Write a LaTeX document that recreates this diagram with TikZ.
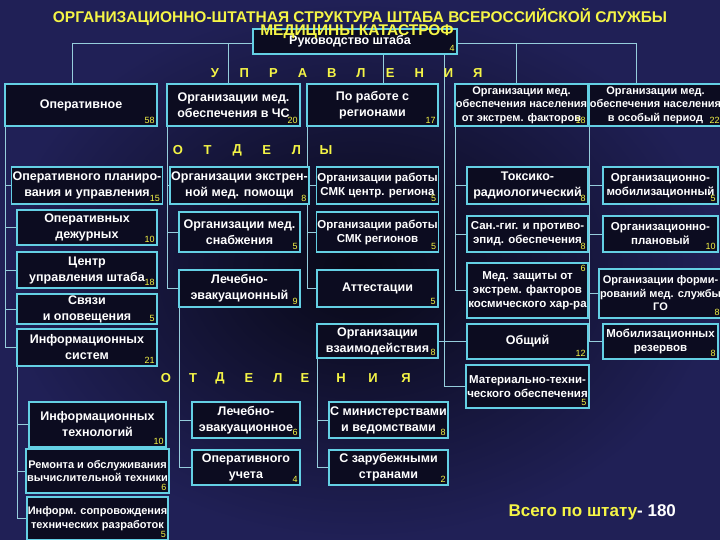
\documentclass[tikz,border=0pt]{standalone}
\usepackage{fontspec}
\setmainfont{Liberation Sans}
\usetikzlibrary{backgrounds}
\definecolor{bgin}{RGB}{8,8,22}
\definecolor{bgout}{RGB}{32,32,86}
\definecolor{boxfill}{RGB}{12,12,32}
\definecolor{boxline}{RGB}{100,208,228}
\definecolor{wirecol}{RGB}{150,205,220}
\definecolor{yel}{RGB}{245,245,70}

\begin{document}
\begin{tikzpicture}[x=1pt,y=-1pt,
    box/.style={draw=boxline, line width=1.6pt, fill=boxfill, text=white, align=center, inner sep=1pt,
        font=\bfseries\fontsize{12.5}{16}\selectfont},
    small/.style={font=\bfseries\fontsize{11.5}{14}\selectfont},
    tiny/.style={font=\bfseries\fontsize{11}{13.5}\selectfont},
    numlbl/.style={inner sep=3pt, text=yel, font=\fontsize{9}{9}\selectfont},
    cnt/.style={label={[numlbl, anchor=south east]south east:#1}},
    cntT/.style={label={[numlbl, anchor=north east]north east:#1}},
    wire/.style={draw=wirecol, line width=0.8pt},
    letter/.style={text=yel, font=\bfseries\fontsize{13}{13}\selectfont},
    title/.style={text=yel, inner sep=0pt, font=\bfseries\fontsize{15.5}{16}\selectfont}]

    \useasboundingbox (0,0) rectangle (720,540);

    \node[box, minimum width=204pt, minimum height=25pt, cnt=4] (ruk) at (355,41.5) {\raisebox{-2pt}{Руководство штаба}\hspace{10pt}};

    \node[box, minimum width=152pt, minimum height=42pt, cnt=58] (ops) at (81,105) {Оперативное};
    \node[box, minimum width=133pt, minimum height=42pt, cnt=20] (chs) at (233.5,105) {Организации мед.\\обеспечения в ЧС};
    \node[box, minimum width=131pt, minimum height=42pt, cnt=17] (reg) at (372.5,105) {По работе с\\регионами};
    \node[box, tiny, minimum width=133pt, minimum height=42pt, cnt=18] (nas) at (521.5,105) {Организации мед.\\обеспечения населения\\от экстрем. факторов};
    \node[box, tiny, minimum width=125pt, minimum height=42pt, cnt=22] (osob) at (655.5,105) {Организации мед.\\обеспечения населения\\в особый период};

    \node[box, minimum width=140pt, minimum height=37pt, cnt=15] (plan) at (87,185.5) {Оперативного планиро-\\вания и управления};
    \node[box, minimum width=140pt, minimum height=35pt, cnt=10] (dej) at (87,227.5) {Оперативных\\дежурных};
    \node[box, minimum width=140pt, minimum height=36pt, cnt=18] (cup) at (87,270) {Центр\\управления штаба};
    \node[box, minimum width=140pt, minimum height=30pt, cnt=5] (svyaz) at (87,309) {Связи\\и оповещения};
    \node[box, minimum width=140pt, minimum height=37pt, cnt=21] (info) at (87,347.5) {Информационных\\систем};

    \node[box, minimum width=137pt, minimum height=45pt, cnt=10] (itech) at (97.5,424.5) {Информационных\\технологий};
    \node[box, tiny, minimum width=137pt, minimum height=44pt, cnt=6] (rem) at (97.5,471) {Ремонта и обслуживания\\вычислительной техники};
    \node[box, tiny, minimum width=137pt, minimum height=43pt, cnt=5] (sopr) at (97.5,518.5) {Информ. сопровождения\\технических разработок};

    \node[box, minimum width=121pt, minimum height=37pt, cnt=8] (ekstr) at (239.5,185.5) {Организации экстрен-\\ной мед. помощи};
    \node[box, minimum width=121pt, minimum height=40pt, cnt=5] (snab) at (239.5,232) {Организации мед.\\снабжения};
    \node[box, minimum width=121pt, minimum height=37pt, cnt=9] (lev) at (239.5,288.5) {Лечебно-\\эвакуационный};

    \node[box, minimum width=108pt, minimum height=36pt, cnt=6] (levn) at (246,420) {Лечебно-\\эвакуационное};
    \node[box, minimum width=108pt, minimum height=35pt, cnt=4] (ucht) at (246,467.5) {Оперативного\\учета};

    \node[box, small, minimum width=121pt, minimum height=37pt, cnt=5] (smk1) at (377.5,185.5) {Организации работы\\СМК центр. региона};
    \node[box, small, minimum width=121pt, minimum height=40pt, cnt=5] (smk2) at (377.5,232) {Организации работы\\СМК регионов};
    \node[box, minimum width=121pt, minimum height=37pt, cnt=5] (att) at (377.5,288.5) {Аттестации};
    \node[box, minimum width=121pt, minimum height=34pt, cnt=8] (vzaim) at (377.5,341) {Организации\\взаимодействия};

    \node[box, minimum width=119pt, minimum height=36pt, cnt=8] (min) at (388.5,420) {С министерствами\\и ведомствами};
    \node[box, minimum width=119pt, minimum height=35pt, cnt=2] (zar) at (388.5,467.5) {С зарубежными\\странами};

    \node[box, minimum width=121pt, minimum height=37pt, cnt=8] (tox) at (527.5,185.5) {Токсико-\\радиологический};
    \node[box, small, minimum width=121pt, minimum height=36pt, cnt=8] (san) at (527.5,234) {Сан.-гиг. и противо-\\эпид. обеспечения};
    \node[box, small, minimum width=121pt, minimum height=55pt, cntT=6] (mz) at (527.5,290.5) {Мед. защиты от\\экстрем. факторов\\космического хар-ра};
    \node[box, minimum width=121pt, minimum height=35pt, cnt=12] (obsh) at (527.5,341.5) {Общий};
    \node[box, small, minimum width=121pt, minimum height=43pt, cnt=5] (mto) at (527.5,386.5) {Материально-техни-\\ческого обеспечения};

    \node[box, small, minimum width=115pt, minimum height=37pt, cnt=5] (omob) at (660.5,185.5) {Организационно-\\мобилизационный};
    \node[box, small, minimum width=115pt, minimum height=36pt, cnt=10] (oplan) at (660.5,234) {Организационно-\\плановый};
    \node[box, tiny, minimum width=115pt, minimum height=49pt, cnt=8] (go) at (660.5,293.5) {Организации форми-\\рований мед. службы\\ГО};
    \node[box, small, minimum width=115pt, minimum height=35pt, cnt=8] (rez) at (660.5,341.5) {Мобилизационных\\резервов};

    \begin{scope}[on background layer]
    \shade[inner color=bgin, outer color=bgout] (0,0) rectangle (720,540);

    \coordinate (b1) at (72,43);
    \coordinate (b2) at (228,43);
    \coordinate (b3) at (383,43);
    \coordinate (b4) at (444,43);
    \coordinate (b5) at (516,43);
    \coordinate (b6) at (636,43);
    \draw[wire] (b1) -- (b6);
    \draw[wire] (b1) -- (b1 |- ops.north);
    \draw[wire] (b2) -- (b2 |- chs.north);
    \draw[wire] (b3) -- (b3 |- reg.north);
    \draw[wire] (b5) -- (b5 |- nas.north);
    \draw[wire] (b6) -- (b6 |- osob.north);
    \draw[wire] (b4) |- (mto.west);
    \draw[wire] (b4 |- obsh.west) -- (obsh.west);
    \draw[wire] (b4 |- vzaim.east) -- (vzaim.east);

    \coordinate (vl) at ([xshift=1pt]ops.south west);
    \draw[wire] (vl) |- (info.west);
    \foreach \b in {plan,dej,cup,svyaz}
        \draw[wire] (vl |- \b.west) -- (\b.west);

    \coordinate (vi) at ([xshift=1pt]info.south west);
    \draw[wire] (vi) |- (sopr.west);
    \foreach \b in {itech,rem}
        \draw[wire] (vi |- \b.west) -- (\b.west);

    \coordinate (vc) at ([xshift=1pt]chs.south west);
    \draw[wire] (vc) |- (lev.west);
    \foreach \b in {ekstr,snab}
        \draw[wire] (vc |- \b.west) -- (\b.west);

    \coordinate (ve) at ([xshift=1pt]lev.south west);
    \draw[wire] (ve) |- (ucht.west);
    \draw[wire] (ve |- levn.west) -- (levn.west);

    \coordinate (vr) at ([xshift=1pt]reg.south west);
    \draw[wire] (vr) |- (att.west);
    \foreach \b in {smk1,smk2}
        \draw[wire] (vr |- \b.west) -- (\b.west);

    \coordinate (vv) at ([xshift=1pt]vzaim.south west);
    \draw[wire] (vv) |- (zar.west);
    \draw[wire] (vv |- min.west) -- (min.west);

    \coordinate (vn) at ([xshift=1pt]nas.south west);
    \draw[wire] (vn) |- (mz.west);
    \foreach \b in {tox,san}
        \draw[wire] (vn |- \b.west) -- (\b.west);

    \coordinate (vo) at ([xshift=1pt]osob.south west);
    \draw[wire] (vo) |- (rez.west);
    \foreach \b in {omob,oplan,go}
        \draw[wire] (vo |- \b.west) -- (\b.west);
    \end{scope}

    \foreach \c [count=\i from 0] in {У,П,Р,А,В,Л,Е,Н,И,Я}
        \node[letter] (upr\i) at (215+29.2*\i,73) {\c};
    \foreach \c [count=\i from 0] in {О,Т,Д,Е,Л,Ы}
        \node[letter] (otd\i) at (178+29.6*\i,150) {\c};
    \foreach \c/\x [count=\i] in {О/166,Т/193,Д/220,Е/249,Л/278,Е/305,Н/341,И/373,Я/406}
        \node[letter] (otn\i) at (\x,378) {\c};

    \node[title] (t1) at (360,17) {ОРГАНИЗАЦИОННО-ШТАТНАЯ СТРУКТУРА ШТАБА ВСЕРОССИЙСКОЙ СЛУЖБЫ};
    \node[title] (t2) at (357,32) {МЕДИЦИНЫ КАТАСТРОФ};

    \node[text=yel, anchor=west, font=\bfseries\fontsize{17}{17}\selectfont] (total) at (505,512) {Всего по штату\textcolor{white}{ - 180}};
\end{tikzpicture}
\end{document}
